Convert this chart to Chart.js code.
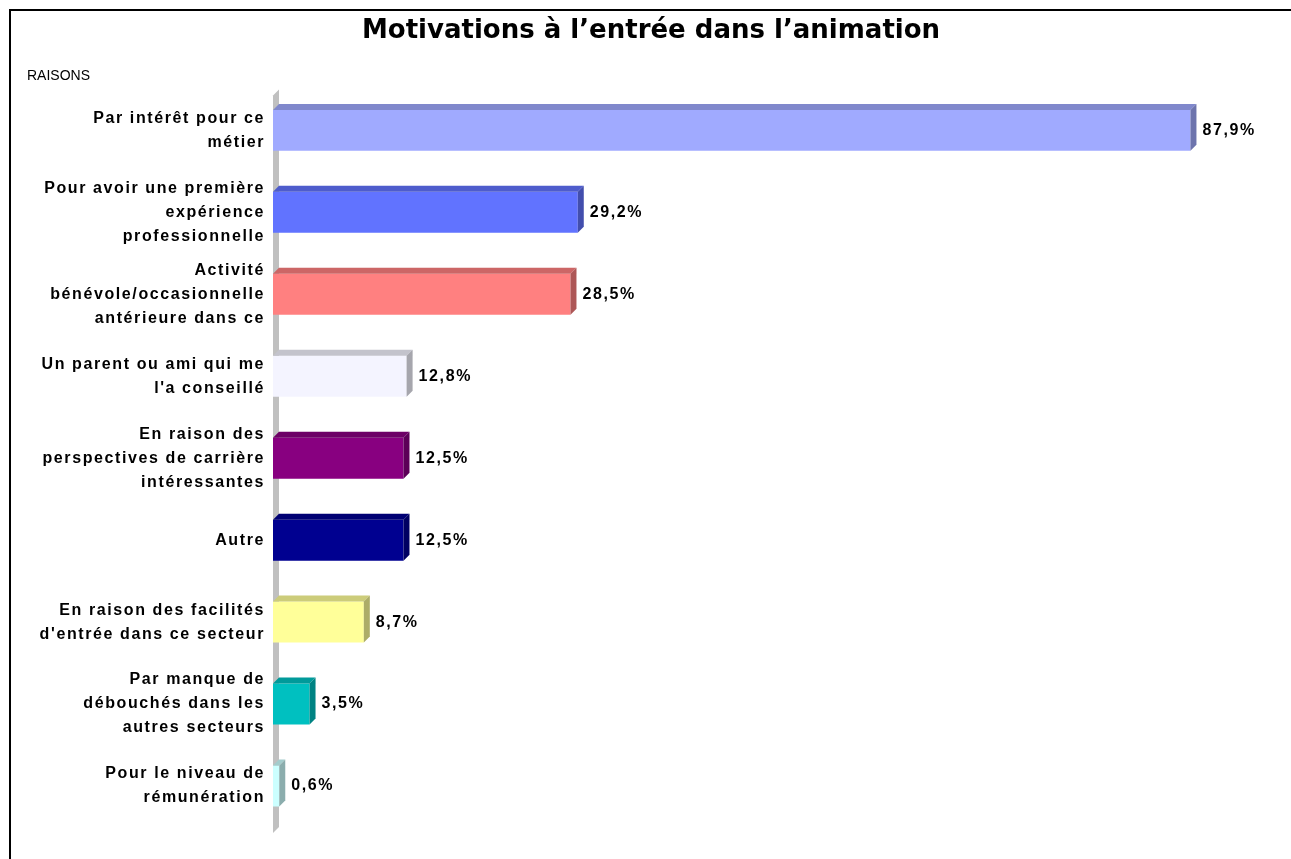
<!DOCTYPE html>
<html>
<head>
<meta charset="utf-8">
<script src="https://cdn.jsdelivr.net/npm/chart.js@4.4.0/dist/chart.umd.min.js"></script>
<style>
    html, body { margin: 0; padding: 0; background: #fff; overflow: hidden; }
    #frame { position: absolute; left: 9px; top: 9px; width: 1400px; height: 1000px; border: 2px solid #000; }
    #wrap { position: absolute; left: 0; top: 0; width: 1291px; height: 859px; }
</style>
</head>
<body>
<div id="frame"></div>
<div id="wrap"><canvas id="myChart"></canvas></div>
<script>
// Categories (multi-line labels)
const reasons = [
    ['Par intérêt pour ce', 'métier'],
    ['Pour avoir une première', 'expérience', 'professionnelle'],
    ['Activité', 'bénévole/occasionnelle', 'antérieure dans ce'],
    ['Un parent ou ami qui me', "l'a conseillé"],
    ['En raison des', 'perspectives de carrière', 'intéressantes'],
    'Autre',
    ['En raison des facilités', "d'entrée dans ce secteur"],
    ['Par manque de', 'débouchés dans les', 'autres secteurs'],
    ['Pour le niveau de', 'rémunération']
];

// Percentages
const percents = [87.9, 29.2, 28.5, 12.8, 12.5, 12.5, 8.7, 3.5, 0.6];

const barColors = ['#A0AAFF', '#6173FF', '#FF8080', '#F4F4FF', '#880080', '#000090', '#FFFF99', '#00C0C0', '#CCFFFF'];

const DEPTH = 6;
const LABEL_FONT = "'Liberation Sans', Arial, sans-serif";
const SPACING = '1.6px';

// darken a hex colour by a factor
const shade = (hex, f) => {
    const n = parseInt(hex.slice(1), 16);
    const r = Math.round(((n >> 16) & 255) * f);
    const g = Math.round(((n >> 8) & 255) * f);
    const b = Math.round((n & 255) * f);
    return `rgb(${r},${g},${b})`;
};

// gray wall behind the bars + 3D faces + value labels
const bars3d = {
    id: 'bars3d',
    beforeDatasetsDraw: (chart) => {
        const {ctx, chartArea} = chart;
        const L = chartArea.left;
        ctx.save();
        ctx.fillStyle = '#C0C0C0';
        ctx.beginPath();
        ctx.moveTo(L, chartArea.top + DEPTH);
        ctx.lineTo(L + DEPTH, chartArea.top);
        ctx.lineTo(L + DEPTH, chartArea.bottom);
        ctx.lineTo(L, chartArea.bottom + DEPTH);
        ctx.closePath();
        ctx.fill();
        ctx.restore();
    },
    afterDatasetsDraw: (chart) => {
        const {ctx} = chart;
        const meta = chart.getDatasetMeta(0);
        ctx.save();
        meta.data.forEach((bar, i) => {
            const top = bar.y - bar.height / 2;
            const bottom = bar.y + bar.height / 2;
            const x0 = bar.base;
            const x1 = bar.x;
            // top face
            ctx.fillStyle = shade(barColors[i], 0.8);
            ctx.beginPath();
            ctx.moveTo(x0, top);
            ctx.lineTo(x0 + DEPTH, top - DEPTH);
            ctx.lineTo(x1 + DEPTH, top - DEPTH);
            ctx.lineTo(x1, top);
            ctx.closePath();
            ctx.fill();
            // side face
            ctx.fillStyle = shade(barColors[i], 0.68);
            ctx.beginPath();
            ctx.moveTo(x1, top);
            ctx.lineTo(x1 + DEPTH, top - DEPTH);
            ctx.lineTo(x1 + DEPTH, bottom - DEPTH);
            ctx.lineTo(x1, bottom);
            ctx.closePath();
            ctx.fill();
            // value
            ctx.fillStyle = '#000';
            ctx.font = `bold 16px ${LABEL_FONT}`;
            ctx.letterSpacing = SPACING;
            ctx.textAlign = 'left';
            ctx.textBaseline = 'middle';
            ctx.fillText(percents[i].toFixed(1).replace('.', ',') + '%', x1 + DEPTH + 6, bar.y);
        });
        ctx.restore();
    }
};

const ctx = document.getElementById('myChart').getContext('2d');
const myChart = new Chart(ctx, {
    type: 'bar',
    data: {
        labels: reasons,
        datasets: [{
            data: percents,
            backgroundColor: barColors,
            borderWidth: 0,
            barPercentage: 0.5,
            categoryPercentage: 1
        }]
    },
    options: {
        indexAxis: 'y',
        responsive: true,
        maintainAspectRatio: false,
        animation: false,
        layout: {
            padding: { left: 27, right: 16, top: 0, bottom: 32 }
        },
        plugins: {
            legend: { display: false },
            tooltip: { enabled: false },
            title: {
                display: true,
                text: 'Motivations à l’entrée dans l’animation',
                color: '#000',
                font: { family: "'DejaVu Sans', Verdana, sans-serif", size: 26, weight: 'bold', lineHeight: 1.2 },
                padding: { top: 16, bottom: 20.4 }
            },
            subtitle: {
                display: true,
                text: 'RAISONS',
                align: 'start',
                color: '#000',
                font: { family: LABEL_FONT, size: 14, lineHeight: 1.2 },
                padding: { top: 0, bottom: 5 }
            }
        },
        scales: {
            x: {
                display: false,
                min: 0,
                max: 96
            },
            y: {
                grid: { display: false, drawTicks: false },
                border: { display: false },
                ticks: {
                    color: '#000',
                    padding: 8,
                    autoSkip: false,
                    font: { family: LABEL_FONT, size: 16, weight: 'bold', lineHeight: 1.5 }
                },
                afterFit: (scale) => {
                    scale.width = 246;
                    // the category labels are drawn a bit wider in the original
                    if (!scale.widePatched) {
                        const drawLabels = scale.drawLabels.bind(scale);
                        scale.drawLabels = (area) => {
                            scale.ctx.save();
                            scale.ctx.letterSpacing = SPACING;
                            drawLabels(area);
                            scale.ctx.restore();
                        };
                        scale.widePatched = true;
                    }
                }
            }
        }
    },
    plugins: [bars3d]
});
</script>
</body>
</html>
